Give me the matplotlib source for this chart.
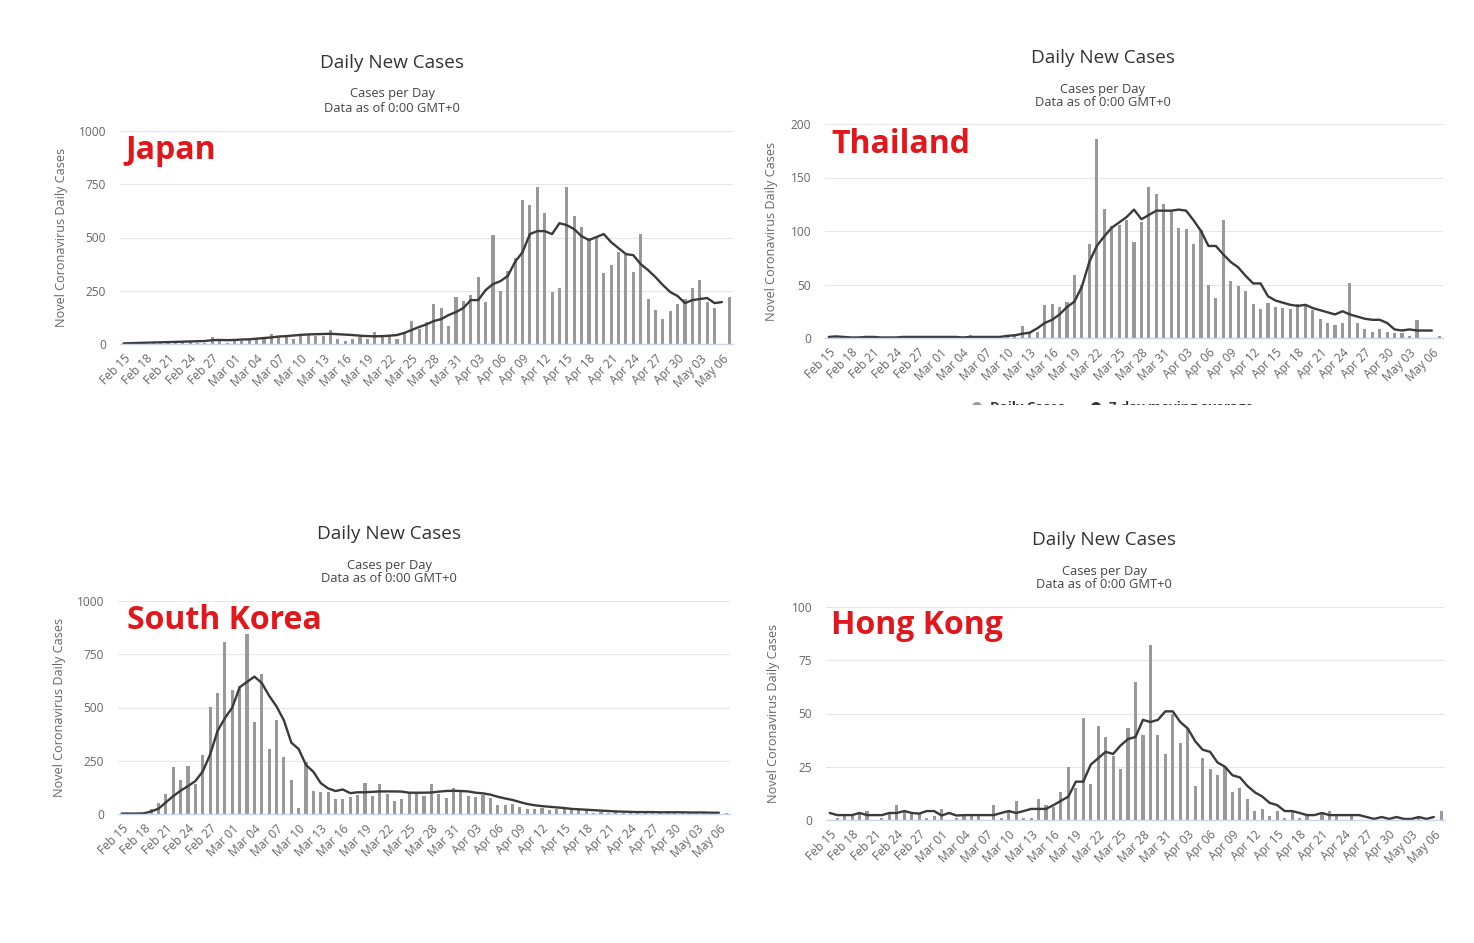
import numpy as np
import pandas as pd
import matplotlib
matplotlib.use("Agg")
import matplotlib.pyplot as plt
from matplotlib.patches import Rectangle

plt.rcParams['font.family'] = ['Open Sans', 'DejaVu Sans']

# days on the x axis: Feb 15 .. May 07 (2020)
dates = pd.date_range('2020-02-15', '2020-05-07')
day_labels = [d.strftime('%b %d') for d in dates]

# daily new cases (bars)
japan_cases = [3, 5, 6, 6, 7, 8, 14, 14, 11, 8,
               6, 3, 34, 14, 6, 14, 16, 23, 28, 28,
               48, 33, 36, 23, 44, 44, 39, 39, 64, 23,
               14, 22, 33, 23, 58, 34, 36, 22, 55, 106,
               70, 105, 189, 169, 84, 220, 202, 230, 314, 197,
               511, 248, 345, 403, 675, 652, 736, 614, 244, 262,
               736, 600, 548, 497, 502, 333, 370, 431, 417, 337,
               516, 211, 159, 117, 155, 188, 211, 262, 300, 197,
               169, 0, 220]
thailand_cases = [0, 1, 0, 0, 0, 0, 2, 0, 0, 0,
                  0, 0, 0, 1, 0, 0, 0, 0, 0, 3,
                  1, 0, 0, 1, 2, 4, 11, 5, 6, 31,
                  32, 29, 34, 59, 50, 88, 186, 121, 105, 106,
                  110, 90, 108, 141, 135, 125, 119, 103, 102, 88,
                  101, 50, 37, 110, 53, 49, 44, 32, 27, 33,
                  29, 28, 27, 32, 32, 26, 18, 14, 12, 14,
                  51, 14, 8, 6, 8, 6, 5, 5, 2, 17,
                  0, 0, 2]
korea_cases = [0, 1, 1, 1, 22, 50, 94, 220, 159, 225,
               141, 277, 502, 567, 806, 581, 599, 844, 431, 656,
               305, 441, 267, 159, 28, 242, 108, 103, 103, 70,
               70, 80, 89, 145, 84, 141, 94, 61, 70, 98,
               104, 84, 141, 94, 75, 122, 103, 84, 80, 89,
               75, 42, 42, 47, 33, 23, 23, 28, 19, 23,
               23, 19, 23, 14, 5, 9, 5, 9, 5, 6,
               8, 10, 12, 8, 6, 3, 9, 6, 10, 8,
               3, 2, 4]
hongkong_cases = [0, 1, 2, 2, 3, 4, 0, 1, 3, 7,
                  4, 3, 3, 1, 2, 5, 0, 1, 2, 2,
                  2, 0, 7, 1, 4, 9, 1, 1, 10, 7,
                  6, 13, 25, 15, 48, 17, 44, 39, 30, 24,
                  43, 65, 40, 82, 40, 31, 50, 36, 43, 16,
                  29, 24, 21, 25, 13, 15, 10, 4, 5, 2,
                  4, 1, 4, 1, 2, 0, 3, 4, 2, 0,
                  2, 0, 0, 0, 0, 1, 0, 0, 0, 1,
                  0, 0, 4]

# moving average line (stops one day before the last bar)
japan_avg = [3, 4, 5, 6, 7, 8, 9, 10, 11, 12,
             13, 14, 18, 19, 18, 19, 21, 22, 25, 28,
             31, 35, 37, 40, 43, 45, 46, 47, 48, 46,
             44, 42, 39, 37, 36, 37, 39, 42, 52, 66,
             80, 92, 108, 117, 136, 150, 169, 206, 206, 253,
             281, 295, 319, 386, 431, 516, 530, 530, 516, 567,
             558, 539, 506, 488, 502, 516, 478, 450, 422, 417,
             375, 347, 314, 277, 244, 225, 192, 206, 211, 216,
             192, 197]
thailand_avg = [1, 1.5, 1, 0.5, 0.5, 1, 1, 0.5, 0.5, 0.5,
                1, 1, 1, 1, 1, 1, 1, 1, 0.5, 1,
                1, 1, 1, 1, 2, 2.5, 4, 5, 9, 14,
                17, 22, 29, 34, 48, 71, 86, 95, 103, 108,
                113, 120, 111, 115, 119, 119, 119, 120, 119, 110,
                100, 86, 86, 78, 71, 66, 58, 51, 51, 39,
                35, 33, 31, 30, 31, 28, 26, 24, 22, 25,
                22, 20, 18, 17, 17, 14, 8, 7, 8, 7,
                7, 7]
korea_avg = [2, 2, 2, 3, 12, 25, 55, 84, 110, 131,
             155, 200, 280, 390, 450, 500, 595, 620, 645, 615,
             555, 505, 440, 335, 305, 230, 198, 145, 120, 108,
             115, 98, 102, 102, 104, 106, 106, 106, 105, 100,
             100, 100, 101, 105, 108, 109, 108, 106, 100, 97,
             91, 81, 73, 66, 56, 47, 41, 37, 34, 31,
             28, 24, 22, 20, 18, 16, 14, 12, 11, 10,
             9, 9, 9, 8, 8, 8, 8, 7, 7, 7,
             6, 6]
hongkong_avg = [3.3, 2.3, 2.3, 2.3, 3.3, 2.3, 2.3, 2.3, 3.3, 3.3,
                4.2, 3.3, 3, 4.2, 4.2, 2.1, 3.3, 2.1, 2.3, 2.3,
                2.3, 2.3, 2.3, 3.3, 4.2, 3.3, 4.2, 5.2, 5.2, 5.2,
                7, 9, 11, 18, 18, 26, 29, 32, 31, 35,
                38, 39, 47, 46, 47, 51, 51, 46, 43, 37,
                33, 32, 27, 25, 21, 20, 16, 13, 11, 8,
                7, 4.2, 4.2, 3.3, 2.3, 2.3, 3.3, 2.3, 2.3, 2.3,
                2.3, 2.3, 1.4, 0.5, 1.4, 0.5, 1.4, 0.5, 0.5, 1.4,
                0.5, 1.4]

W, H = 1474, 943
fig = plt.figure(figsize=(W / 100, H / 100), dpi=100)


def ftext(x, y, s, **kw):
    # text placed in pixel coords of the figure (y from top)
    return fig.text(x / W, 1 - y / H, s, **kw)


# name, bars, line, y max, plot box (x0, y0, x1, y1), title centre, title y, ylabel x, country label pos
panels = [
    ('Japan', japan_cases, japan_avg, 1000, (120, 131, 733, 344), 392, 62, 62, (125, 159)),
    ('Thailand', thailand_cases, thailand_avg, 200, (825, 124, 1443, 338), 1103, 57, 772, (831, 153)),
    ('South Korea', korea_cases, korea_avg, 1000, (118, 601, 730, 814), 389, 533, 59, (127, 629)),
    ('Hong Kong', hongkong_cases, hongkong_avg, 100, (826, 607, 1445, 820), 1104, 539, 773, (831, 634)),
]

for name, cases, avg, ymax, box, tx, ty, ylx, (nx, ny) in panels:
    x0, y0, x1, y1 = box
    ax = fig.add_axes([x0 / W, 1 - y1 / H, (x1 - x0) / W, (y1 - y0) / H])
    xs = np.arange(len(cases))
    ax.bar(xs, cases, width=0.42, color='#999999', zorder=2)
    ax.plot(np.arange(len(avg)), avg, color='#3a3a3a', lw=1.7, zorder=3,
            solid_joinstyle='round', solid_capstyle='round')

    ax.set_xlim(-0.5, len(cases) - 0.5)
    ax.set_ylim(0, ymax)
    ax.set_yticks(np.linspace(0, ymax, 5))
    ax.set_yticklabels([f'{int(v)}' for v in np.linspace(0, ymax, 5)])
    ax.set_xticks(xs[::3])
    ax.set_xticklabels(day_labels[::3], rotation=45, ha='right', va='top',
                       rotation_mode='anchor')
    ax.tick_params(axis='both', length=0, labelsize=8.6, labelcolor='#666666')
    ax.tick_params(axis='y', pad=10)
    ax.tick_params(axis='x', pad=6)
    ax.grid(axis='y', color='#e6e6e6', lw=0.8, zorder=0)
    for side in ['top', 'right', 'left']:
        ax.spines[side].set_visible(False)
    ax.spines['bottom'].set_color('#ccd6eb')
    ax.spines['bottom'].set_linewidth(1.0)
    ax.spines['bottom'].set_zorder(4)

    # titles
    ftext(tx, ty + 1, 'Daily New Cases', ha='center', va='center', fontsize=13.6, color='#333333')
    ftext(tx, ty + 32, 'Cases per Day', ha='center', va='center', fontsize=9.3, color='#444444')
    ftext(tx, ty + 46, 'Data as of 0:00 GMT+0', ha='center', va='center', fontsize=9.3, color='#444444')
    ftext(ylx, (y0 + y1) / 2, 'Novel Coronavirus Daily Cases', rotation=90, ha='center',
          va='center', fontsize=9.1, color='#666666')

    # big red country name
    ftext(nx, ny, name, ha='left', va='baseline', fontsize=23, fontweight='bold', color='#e3161b')

# legend of the Thailand chart, cut off by the screenshot: only its top shows
ftext(976, 407, '\u25cf', ha='center', va='center', fontsize=10, color='#999999')
ftext(990, 408, 'Daily Cases', ha='left', va='center', fontsize=9.5, color='#333333', fontweight='bold')
ftext(1095, 407, '\u25cf', ha='center', va='center', fontsize=10, color='#333333')
ftext(1109, 408, '7-day moving average', ha='left', va='center', fontsize=9.5, color='#333333',
      fontweight='bold')
fig.add_artist(Rectangle((940 / W, 1 - 430 / H), 330 / W, 25 / H, transform=fig.transFigure,
                         facecolor='white', edgecolor='none', zorder=20))

fig.savefig('out.png', dpi=100, facecolor='white')
